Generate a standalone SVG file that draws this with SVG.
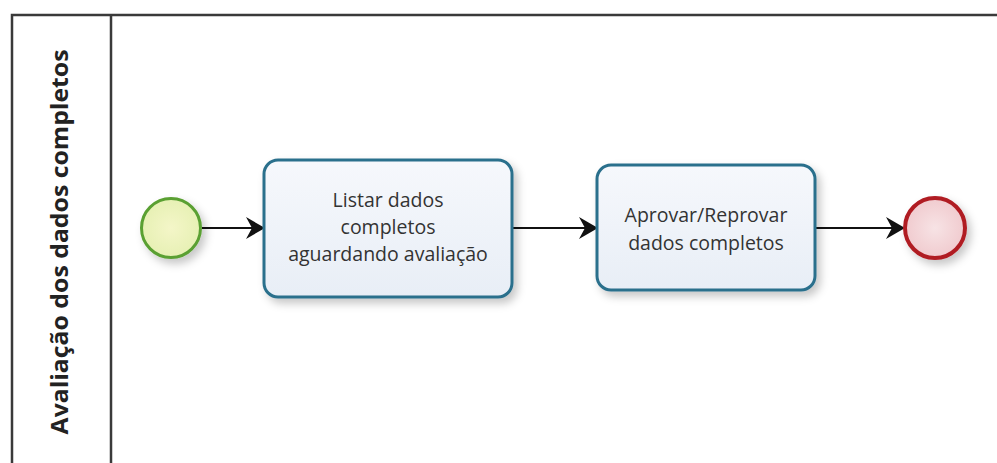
<svg xmlns="http://www.w3.org/2000/svg" width="997" height="463" viewBox="0 0 997 463">
  <defs>
    <style>
      .pool { fill: none; stroke: #3a3a3a; stroke-width: 2.5; }
      .task { fill: url(#taskFill); stroke: #2b6f8c; stroke-width: 3; filter: url(#shadow); }
      .lbl { font-family: "Open Sans", "Liberation Sans", sans-serif; font-size: 19.5px; fill: #333; text-anchor: middle; }
      .lane { font-family: "Open Sans", "Liberation Sans", sans-serif; font-size: 24px; font-weight: bold; fill: #222; text-anchor: middle; }
      .flow { stroke: #111; stroke-width: 2; fill: none; marker-end: url(#arrow); }
    </style>
    <linearGradient id="taskFill" x1="0" y1="0" x2="0" y2="1">
      <stop offset="0" stop-color="#f6f8fc"/>
      <stop offset="1" stop-color="#e8eef6"/>
    </linearGradient>
    <radialGradient id="startFill" cx="0.5" cy="0.5" r="0.6">
      <stop offset="0" stop-color="#f4f6c8"/>
      <stop offset="1" stop-color="#e4efb0"/>
    </radialGradient>
    <radialGradient id="endFill" cx="0.5" cy="0.5" r="0.6">
      <stop offset="0" stop-color="#f7e3e5"/>
      <stop offset="1" stop-color="#efc6ca"/>
    </radialGradient>
    <filter id="shadow" x="-20%" y="-20%" width="150%" height="150%">
      <feDropShadow dx="4" dy="5" stdDeviation="4" flood-color="#000" flood-opacity="0.22"/>
    </filter>
    <marker id="arrow" markerWidth="20" markerHeight="22" refX="18" refY="11" orient="auto" markerUnits="userSpaceOnUse">
      <path d="M0,0 L19,11 L0,22 L6,11 Z" fill="#111"/>
    </marker>
  </defs>

  <g id="pool">
    <path class="pool" d="M12,463 L12,15 L997,15"/>
    <line class="pool" x1="111" y1="15" x2="111" y2="463"/>
  </g>

  <g id="lane-label">
    <text class="lane" transform="translate(68,242) rotate(-90)" textLength="385" lengthAdjust="spacingAndGlyphs">Avaliação dos dados completos</text>
  </g>

  <g id="connectors">
    <line class="flow" x1="202" y1="228" x2="264" y2="228"/>
    <line class="flow" x1="512" y1="228" x2="597" y2="228"/>
    <line class="flow" x1="815" y1="228" x2="904" y2="228"/>
  </g>

  <g id="start">
    <circle cx="171" cy="228" r="29.5" fill="url(#startFill)" stroke="#5aa032" stroke-width="3" filter="url(#shadow)"/>
  </g>

  <g id="task1">
    <rect class="task" x="264" y="160" width="248" height="137" rx="14" ry="14"/>
    <text class="lbl" x="388" y="207">Listar dados</text>
    <text class="lbl" x="388" y="234">completos</text>
    <text class="lbl" x="388" y="261">aguardando avaliação</text>
  </g>

  <g id="task2">
    <rect class="task" x="597" y="165" width="218" height="125" rx="14" ry="14"/>
    <text class="lbl" x="706" y="222">Aprovar/Reprovar</text>
    <text class="lbl" x="706" y="250">dados completos</text>
  </g>

  <g id="end">
    <circle cx="935" cy="228" r="30" fill="url(#endFill)" stroke="#b01c24" stroke-width="4" filter="url(#shadow)"/>
  </g>
</svg>
